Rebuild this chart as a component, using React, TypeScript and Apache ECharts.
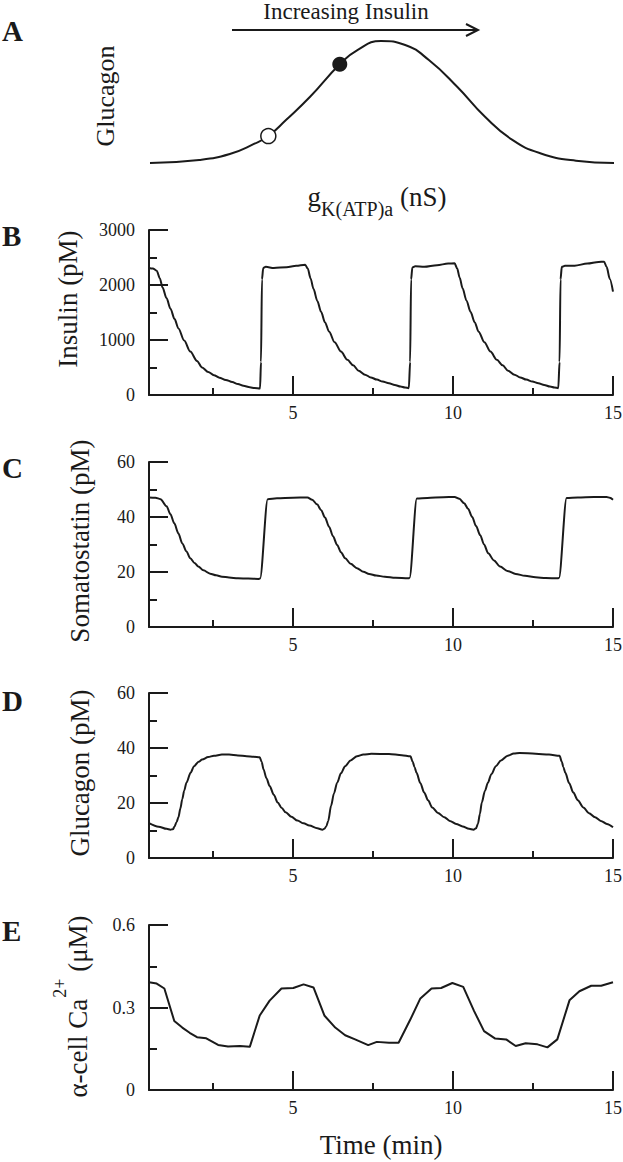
import React, { useEffect, useRef } from 'react';
import * as echarts from 'echarts';

// ---------- Panel A: schematic bell curve (arbitrary units) ----------
const bellX = [0, 10.6, 17.2, 22.4, 25.5, 29.3, 34.5, 40.9, 44.7, 49.8, 55.0, 60.1, 66.2, 72.2, 78.1, 84.1, 91.8, 100];
const bellY = [0, 0.025, 0.074, 0.156, 0.221, 0.352, 0.543, 0.809, 0.926, 1.0, 0.967, 0.844, 0.625, 0.379, 0.189, 0.08, 0.019, 0];
const openPoint = [25.5, 0.221];
const filledPoint = [40.9, 0.809];

// ---------- Time axis ----------
const timeMajorTicks = [5, 10, 15];
const timeMinorTicks = [2.5, 7.5, 12.5];

// ---------- Panel B: Insulin (pM) ----------
const insulin: [number, number][] = [
  [0.5, 2310], [0.62, 2300], [0.74, 2260], [0.84, 2120], [0.92, 1960], [1.05, 1760], [1.17, 1570], [1.3, 1380],
  [1.42, 1210], [1.6, 990], [1.79, 790], [2.0, 620], [2.16, 500], [2.35, 420], [2.53, 360], [2.7, 315], [2.9, 275],
  [3.1, 235], [3.28, 200], [3.45, 168], [3.65, 140], [3.8, 126], [3.97, 120], [4.0, 600], [4.03, 2100], [4.07, 2310],
  [4.15, 2330], [4.4, 2310], [4.8, 2325], [5.1, 2350], [5.38, 2370], [5.46, 2300], [5.55, 2120], [5.64, 1930],
  [5.76, 1710], [5.88, 1510], [6.0, 1320], [6.13, 1150], [6.3, 960], [6.5, 790], [6.7, 640], [6.88, 540], [7.05, 440],
  [7.25, 370], [7.43, 320], [7.62, 280], [7.8, 245], [8.0, 215], [8.18, 183], [8.36, 155], [8.5, 135], [8.62, 125],
  [8.66, 600], [8.69, 2100], [8.73, 2320], [8.82, 2340], [9.1, 2330], [9.5, 2360], [9.85, 2390], [10.05, 2395],
  [10.13, 2300], [10.21, 2130], [10.3, 1940], [10.42, 1720], [10.55, 1510], [10.68, 1320], [10.8, 1150], [10.98, 960],
  [11.17, 790], [11.37, 640], [11.55, 540], [11.72, 440], [11.92, 370], [12.1, 320], [12.29, 280], [12.48, 245],
  [12.67, 215], [12.85, 183], [13.03, 155], [13.17, 135], [13.29, 125], [13.33, 600], [13.36, 2100], [13.4, 2330],
  [13.5, 2350], [13.8, 2350], [14.2, 2390], [14.55, 2420], [14.72, 2425], [14.8, 2330], [14.9, 2110], [15.0, 1880],
];
const insulinMinorTicks = [500, 1500, 2500];

// ---------- Panel C: Somatostatin (pM) ----------
const somatostatin: [number, number][] = [
  [0.5, 47.1], [0.7, 47.0], [0.86, 46.5], [1.05, 43.9], [1.17, 41], [1.29, 37.7], [1.42, 34], [1.54, 30.4], [1.67, 27.5],
  [1.79, 25], [1.92, 23.3], [2.04, 22], [2.2, 20.6], [2.41, 19.4], [2.6, 18.8], [2.78, 18.3], [3.0, 18.0], [3.28, 17.7],
  [3.6, 17.6], [3.92, 17.5], [3.97, 17.6], [4.21, 46.5], [4.5, 46.8], [5.0, 47.0], [5.45, 47.1], [5.6, 46.3],
  [5.75, 44.6], [5.88, 42.5], [6.0, 39.8], [6.13, 36.4], [6.25, 33], [6.38, 29.8], [6.5, 27.2], [6.63, 25], [6.8, 23],
  [7.0, 21.4], [7.2, 20.1], [7.38, 19.3], [7.6, 18.7], [7.87, 18.3], [8.2, 17.9], [8.6, 17.7], [8.64, 17.8],
  [8.87, 46.7], [9.2, 46.9], [9.7, 47.2], [10.05, 47.3], [10.2, 46.6], [10.35, 45], [10.47, 43], [10.6, 40],
  [10.72, 36.7], [10.85, 33.4], [10.97, 30], [11.1, 26.8], [11.28, 24.2], [11.47, 22], [11.7, 20.4], [11.96, 19.3],
  [12.25, 18.6], [12.58, 18.1], [12.9, 17.8], [13.28, 17.7], [13.31, 17.8], [13.55, 46.9], [13.9, 47.1], [14.4, 47.3],
  [14.8, 47.3], [14.9, 47.0], [15.0, 46.3],
];
const hormoneMinorTicks = [10, 30, 50];

// ---------- Panel D: Glucagon (pM) ----------
const glucagon: [number, number][] = [
  [0.5, 12.7], [0.8, 11.4], [1.05, 10.6], [1.17, 10.3], [1.25, 10.5], [1.3, 11.5], [1.36, 13], [1.42, 14.8], [1.48, 18],
  [1.54, 21.4], [1.6, 24.5], [1.67, 27.4], [1.8, 31], [1.91, 33.4], [2.05, 35], [2.16, 35.8], [2.35, 36.7], [2.53, 37.2],
  [2.78, 37.6], [3.0, 37.6], [3.28, 37.3], [3.55, 37.0], [3.77, 36.8], [3.96, 36.6], [4.02, 35], [4.08, 32.2],
  [4.17, 29], [4.27, 26.2], [4.4, 23], [4.52, 20.2], [4.65, 18.2], [4.77, 16.6], [4.95, 15], [5.14, 13.6], [5.33, 12.6],
  [5.51, 11.8], [5.76, 10.8], [5.92, 10.3], [5.98, 10.6], [6.04, 11.5], [6.1, 13.5], [6.19, 19], [6.28, 23.5],
  [6.38, 27.4], [6.5, 30.8], [6.63, 33.4], [6.8, 35.5], [7.0, 37.0], [7.2, 37.6], [7.45, 37.9], [8.0, 37.8],
  [8.4, 37.4], [8.67, 37.0], [8.74, 35], [8.8, 33], [8.86, 31], [8.98, 27.2], [9.1, 23.8], [9.22, 21], [9.35, 18.4],
  [9.53, 16.4], [9.73, 14.8], [9.9, 13.5], [10.1, 12.4], [10.3, 11.5], [10.5, 10.6], [10.64, 10.3], [10.72, 10.8],
  [10.78, 12.5], [10.84, 16], [10.9, 20.2], [11.0, 24.5], [11.09, 27.4], [11.2, 30.5], [11.34, 33.4], [11.5, 35.5],
  [11.71, 37.2], [11.9, 38.0], [12.08, 38.2], [12.58, 37.9], [13.0, 37.6], [13.33, 37.2], [13.4, 35], [13.45, 33],
  [13.51, 31], [13.63, 27.2], [13.76, 23.8], [13.9, 21], [14.07, 18.4], [14.25, 16.3], [14.44, 14.8], [14.62, 13.5],
  [14.81, 12.4], [15.0, 11.2],
];

// ---------- Panel E: alpha-cell Ca2+ (uM) ----------
const calcium: [number, number][] = [
  [0.5, 0.392], [0.74, 0.387], [0.98, 0.369], [1.29, 0.251], [1.54, 0.227], [1.77, 0.208], [2.0, 0.192], [2.29, 0.188],
  [2.66, 0.164], [2.97, 0.158], [3.34, 0.160], [3.65, 0.157], [3.96, 0.271], [4.27, 0.325], [4.64, 0.369], [5.01, 0.371],
  [5.33, 0.384], [5.64, 0.373], [5.98, 0.271], [6.32, 0.227], [6.63, 0.199], [6.94, 0.184], [7.35, 0.163], [7.62, 0.175],
  [8.0, 0.172], [8.3, 0.172], [8.67, 0.257], [8.98, 0.333], [9.33, 0.369], [9.63, 0.371], [9.98, 0.389], [10.32, 0.375],
  [10.66, 0.287], [10.97, 0.214], [11.32, 0.187], [11.66, 0.184], [11.96, 0.160], [12.27, 0.170], [12.64, 0.166],
  [12.95, 0.155], [13.26, 0.184], [13.64, 0.326], [13.95, 0.359], [14.32, 0.379], [14.63, 0.379], [15.0, 0.392],
];
const calciumMinorTicks = [0.15, 0.45];

const FONT = 'Liberation Serif';
const INK = '#1a1a1a';

function measure(text: string, size: number): number {
  const c = document.createElement('canvas').getContext('2d');
  if (!c) return text.length * size * 0.5;
  c.font = `${size}px "Liberation Serif", serif`;
  return c.measureText(text).width;
}

const App: React.FC = () => {
  const ref = useRef<HTMLDivElement>(null);

  useEffect(() => {
    if (!ref.current) return;
    const chart = echarts.init(ref.current, undefined, { renderer: 'svg' });

    const panels = [
      { top: 230, max: 3000, interval: 1000, minor: insulinMinorTicks, data: insulin },
      { top: 462, max: 60, interval: 20, minor: hormoneMinorTicks, data: somatostatin },
      { top: 693, max: 60, interval: 20, minor: hormoneMinorTicks, data: glucagon },
      { top: 925, max: 0.6, interval: 0.3, minor: calciumMinorTicks, data: calcium },
    ];
    const left = 149;
    const width = 464;
    const height = 165;

    const grids: any[] = [{ left: 150, top: 41, width: 464, height: 122, outerBoundsMode: 'none' }];
    const xAxes: any[] = [{ gridIndex: 0, type: 'value', min: 0, max: 100, show: false }];
    const yAxes: any[] = [{ gridIndex: 0, type: 'value', min: 0, max: 1, show: false }];
    const series: any[] = [
      {
        type: 'line', xAxisIndex: 0, yAxisIndex: 0, smooth: 0.5, showSymbol: false, silent: true,
        data: bellX.map((x, i) => [x, bellY[i]]),
        lineStyle: { color: INK, width: 2 },
      },
      {
        type: 'scatter', xAxisIndex: 0, yAxisIndex: 0, symbol: 'circle', symbolSize: 15, silent: true,
        data: [openPoint], z: 5,
        itemStyle: { color: '#ffffff', borderColor: INK, borderWidth: 1.5, opacity: 1 },
      },
      {
        type: 'scatter', xAxisIndex: 0, yAxisIndex: 0, symbol: 'circle', symbolSize: 15, silent: true,
        data: [filledPoint], z: 5,
        itemStyle: { color: INK, opacity: 1 },
      },
    ];

    panels.forEach((p, k) => {
      const gi = k + 1;
      grids.push({ left, top: p.top, width, height, outerBoundsMode: 'none' });
      const major = 1 + 2 * k;
      xAxes.push({
        gridIndex: gi, type: 'value', min: 0.5, max: 15, position: 'bottom',
        axisLine: { show: true, onZero: false, lineStyle: { color: INK, width: 2 } },
        axisTick: { show: true, inside: true, length: 19, customValues: timeMajorTicks, lineStyle: { color: INK, width: 2 } },
        axisLabel: { show: true, customValues: timeMajorTicks, fontSize: 18, fontFamily: FONT, color: INK, margin: 9 },
        splitLine: { show: false },
      });
      xAxes.push({
        gridIndex: gi, type: 'value', min: 0.5, max: 15, position: 'bottom',
        axisLine: { show: false, onZero: false },
        axisTick: { show: true, inside: true, length: 7, customValues: timeMinorTicks, lineStyle: { color: INK, width: 2 } },
        axisLabel: { show: false },
        splitLine: { show: false },
      });
      yAxes.push({
        gridIndex: gi, type: 'value', min: 0, max: p.max, interval: p.interval, position: 'left',
        axisLine: { show: true, onZero: false, lineStyle: { color: INK, width: 2 } },
        axisTick: { show: true, inside: true, length: 19, lineStyle: { color: INK, width: 2 } },
        axisLabel: {
          show: true, fontSize: 18, fontFamily: FONT, color: INK, margin: 14,
          formatter: (v: number) => String(v),
        },
        splitLine: { show: false },
      });
      yAxes.push({
        gridIndex: gi, type: 'value', min: 0, max: p.max, position: 'left',
        axisLine: { show: false, onZero: false },
        axisTick: { show: true, inside: true, length: 8, customValues: p.minor, lineStyle: { color: INK, width: 2 } },
        axisLabel: { show: false },
        splitLine: { show: false },
      });
      series.push({
        type: 'line', xAxisIndex: major, yAxisIndex: major, showSymbol: false, silent: true,
        smooth: k === 3 ? false : 0.3, smoothMonotone: 'x',
        data: p.data,
        lineStyle: { color: INK, width: 2 },
      });
    });

    const letter = (t: string, y: number) => ({
      type: 'text', x: 2, y,
      style: { text: t, fontFamily: FONT, fontWeight: 'bold', fontSize: 29, fill: INK, align: 'left', verticalAlign: 'middle' },
    });
    const vTitle = (t: string, x: number, y: number, size = 27) => ({
      type: 'text', x, y, rotation: Math.PI / 2,
      style: { text: t, fontFamily: FONT, fontSize: size, fill: INK, align: 'center', verticalAlign: 'middle' },
    });

    // alpha-cell Ca2+ title, built from three pieces with a raised superscript
    const caMain = 'α-cell Ca';
    const caSup = '2+';
    const caUnit = ' (μM)';
    const w1 = measure(caMain, 27);
    const w2 = measure(caSup, 18);
    const w3 = measure(caUnit, 27);
    const x0 = -(w1 + w2 + w3) / 2;
    const caTitle = {
      type: 'group', x: 77.5, y: 1007, rotation: Math.PI / 2,
      children: [
        { type: 'text', x: x0, y: 0, style: { text: caMain, fontFamily: FONT, fontSize: 27, fill: INK, align: 'left', verticalAlign: 'middle' } },
        { type: 'text', x: x0 + w1 + 1, y: -18, style: { text: caSup, fontFamily: FONT, fontSize: 18, fill: INK, align: 'left', verticalAlign: 'middle' } },
        { type: 'text', x: x0 + w1 + w2 + 1, y: 0, style: { text: caUnit, fontFamily: FONT, fontSize: 27, fill: INK, align: 'left', verticalAlign: 'middle' } },
      ],
    };

    const graphic: any[] = [
      letter('A', 31), letter('B', 235.5), letter('C', 467.5), letter('D', 700.5), letter('E', 930.5),
      {
        type: 'text', x: 346, y: 11,
        style: { text: 'Increasing Insulin', fontFamily: FONT, fontSize: 23, fill: INK, align: 'center', verticalAlign: 'middle' },
      },
      { type: 'line', shape: { x1: 232, y1: 30, x2: 477, y2: 30 }, style: { stroke: INK, lineWidth: 2 } },
      { type: 'polyline', shape: { points: [[466, 24], [478, 30], [466, 36]] }, style: { stroke: INK, lineWidth: 2, fill: 'none' } },
      vTitle('Glucagon', 105, 96, 26),
      {
        type: 'text', x: 377, y: 198,
        style: {
          text: '{m|g}{sub|K(ATP)a}{m| (nS)}', align: 'center', verticalAlign: 'middle',
          rich: {
            m: { fontFamily: FONT, fontSize: 27, fill: INK, lineHeight: 30, verticalAlign: 'top' },
            sub: { fontFamily: FONT, fontSize: 20, fill: INK, lineHeight: 20, padding: [16, 0, 0, 0], verticalAlign: 'top' },
          },
        },
      },
      vTitle('Insulin (pM)', 68, 299),
      vTitle('Somatostatin (pM)', 80, 541),
      vTitle('Glucagon (pM)', 80, 773),
      caTitle,
      {
        type: 'text', x: 381, y: 1145,
        style: { text: 'Time (min)', fontFamily: FONT, fontSize: 27, fill: INK, align: 'center', verticalAlign: 'middle' },
      },
    ];

    chart.setOption({
      animation: false,
      backgroundColor: '#ffffff',
      textStyle: { fontFamily: FONT },
      grid: grids,
      xAxis: xAxes,
      yAxis: yAxes,
      series,
      graphic,
    });

    return () => chart.dispose();
  }, []);

  return <div ref={ref} style={{ position: 'absolute', left: 0, top: 0, width: 623, height: 1162 }} />;
};

export default App;
